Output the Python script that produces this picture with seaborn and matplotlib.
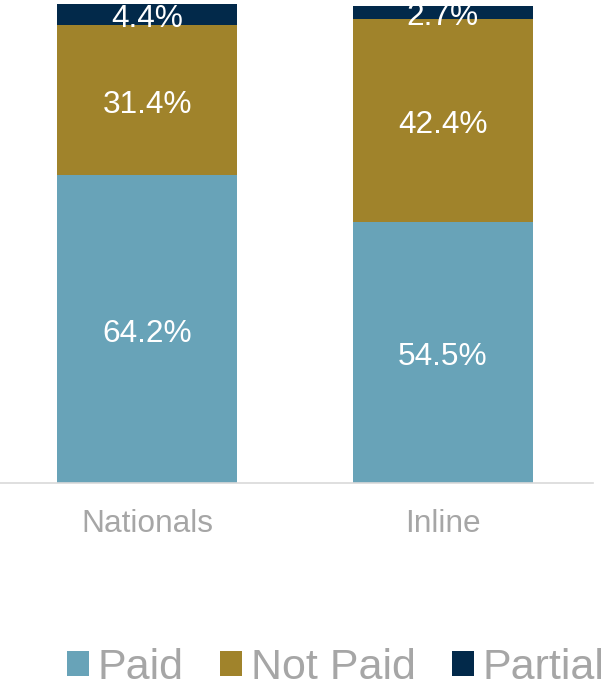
import matplotlib
matplotlib.use("Agg")
import matplotlib.pyplot as plt
import seaborn as sns
import pandas as pd
import numpy as np
from matplotlib.patches import Patch
from matplotlib.transforms import ScaledTranslation

categories = ["Nationals", "Inline"]
paid = [64.2, 54.5]
not_paid = [31.4, 42.4]
partial = [4.4, 2.7]
series_names = ["Paid", "Not Paid", "Partial"]
colors = {"Paid": "#68A3B8", "Not Paid": "#A0832B", "Partial": "#02294A"}

sns.set_theme(style="white")
plt.rcParams["font.family"] = ["Liberation Sans", "DejaVu Sans"]

fig = plt.figure(figsize=(6.1, 6.83), dpi=100)
ax = fig.add_axes([0.0, 0.2928, 0.972, 0.7072])

df = pd.DataFrame({"cat": categories, "Paid": paid, "Not Paid": not_paid, "Partial": partial})
df["c1"] = df["Paid"]
df["c2"] = df["Paid"] + df["Not Paid"]
df["c3"] = df["c2"] + df["Partial"]

w = 0.608
sns.barplot(data=df, x="cat", y="c3", color=colors["Partial"], width=w, ax=ax, saturation=1, linewidth=0)
sns.barplot(data=df, x="cat", y="c2", color=colors["Not Paid"], width=w, ax=ax, saturation=1, linewidth=0)
sns.barplot(data=df, x="cat", y="c1", color=colors["Paid"], width=w, ax=ax, saturation=1, linewidth=0)

shift = ax.transData + ScaledTranslation(0, -0.05, fig.dpi_scale_trans)
for i in range(len(categories)):
    bottoms = [0, df["c1"][i], df["c2"][i]]
    vals = [paid[i], not_paid[i], partial[i]]
    for b, v in zip(bottoms, vals):
        ax.text(i, b + v / 2, f"{v:.1f}%", ha="center", va="center",
                color="white", fontsize=22.8, transform=shift)

ax.set_xlim(-0.497, 1.507)
ax.set_ylim(0, 100.8)
ax.set_xlabel("")
ax.set_ylabel("")
ax.set_yticks([])
for s in ["top", "left", "right"]:
    ax.spines[s].set_visible(False)
ax.spines["bottom"].set_color("#D9D9D9")
ax.spines["bottom"].set_linewidth(1.2)
ax.tick_params(axis="x", length=0, pad=19, labelsize=22.8, labelcolor="#A6A6A6")

handles = [Patch(facecolor=colors[n], edgecolor="none", label=n) for n in series_names]
fig.legend(handles=handles, loc="center left", bbox_to_anchor=(0.11, 0.022),
           ncol=3, frameon=False, fontsize=31, labelcolor="#A6A6A6",
           handlelength=0.5, handleheight=0.5, handletextpad=0.21,
           columnspacing=0.85, borderpad=0, borderaxespad=0)

fig.savefig("out.png", dpi=100)
